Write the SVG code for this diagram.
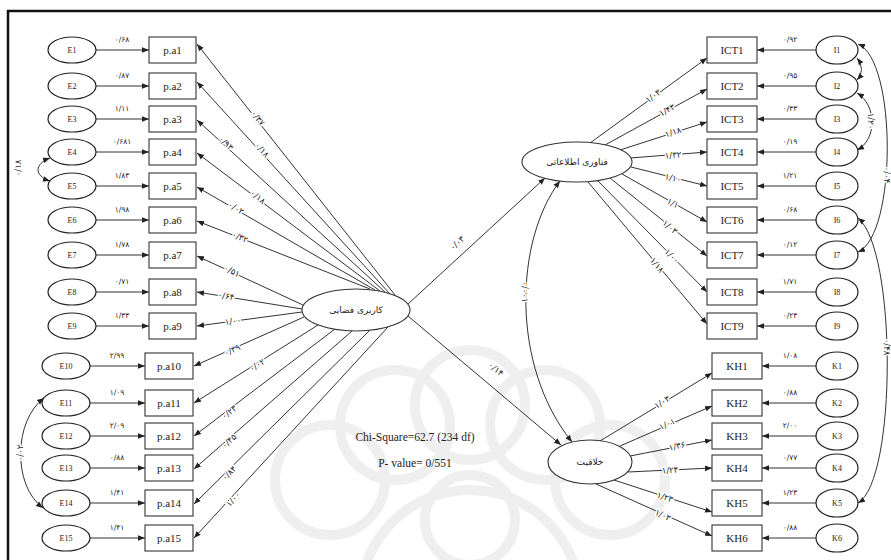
<svg xmlns="http://www.w3.org/2000/svg" width="891" height="560" viewBox="0 0 891 560">
<style>
.box{fill:#fff;stroke:#333;stroke-width:1.1}
.el{fill:#fff;stroke:#222;stroke-width:1.2}
.lat{fill:#fff;stroke:#333;stroke-width:1.1}
.ln{stroke:#333;stroke-width:1;fill:none}
.bt{font-family:"Liberation Serif",serif;font-size:11px;fill:#222;text-anchor:middle;dominant-baseline:central}
.et{font-family:"Liberation Serif",serif;font-size:8px;fill:#222;text-anchor:middle;dominant-baseline:central}
.fa{font-family:"DejaVu Sans",sans-serif;font-size:7.5px;fill:#222;text-anchor:middle;dominant-baseline:central}
.lb{stroke:#fff;stroke-width:3;paint-order:stroke}
.lt{font-family:"DejaVu Sans",sans-serif;font-size:8.5px;fill:#222;text-anchor:middle;dominant-baseline:central}
.st{font-family:"Liberation Serif",serif;font-size:11.5px;fill:#222;text-anchor:middle}
.wm{fill:none;stroke:#efefef;stroke-width:10}
</style>
<defs>
<marker id="ah" viewBox="0 0 10 10" refX="10" refY="5" markerWidth="7" markerHeight="7" markerUnits="userSpaceOnUse" orient="auto-start-reverse"><path d="M0,1 L10,5 L0,9 z" fill="#222"/></marker>
</defs>
<rect x="0" y="0" width="891" height="560" fill="#fff"/>
<g id="watermark">
<circle class="wm" cx="470" cy="600" r="110"/>
<circle class="wm" cx="330" cy="480" r="55"/>
<circle class="wm" cx="395" cy="425" r="55"/>
<circle class="wm" cx="470" cy="405" r="55"/>
<circle class="wm" cx="545" cy="425" r="55"/>
<circle class="wm" cx="610" cy="480" r="55"/>
<circle class="wm" cx="470" cy="520" r="45"/>
</g>
<rect x="8" y="11" width="890" height="560" fill="none" stroke="#111" stroke-width="2.5"/>

<g id="connectors">
<line class="ln" x1="96" y1="50" x2="149" y2="50" marker-end="url(#ah)"/>
<line class="ln" x1="96" y1="86" x2="149" y2="86" marker-end="url(#ah)"/>
<line class="ln" x1="96" y1="119" x2="149" y2="119" marker-end="url(#ah)"/>
<line class="ln" x1="96" y1="152" x2="149" y2="152" marker-end="url(#ah)"/>
<line class="ln" x1="96" y1="186" x2="149" y2="186" marker-end="url(#ah)"/>
<line class="ln" x1="96" y1="220" x2="149" y2="220" marker-end="url(#ah)"/>
<line class="ln" x1="96" y1="255" x2="149" y2="255" marker-end="url(#ah)"/>
<line class="ln" x1="96" y1="292" x2="149" y2="292" marker-end="url(#ah)"/>
<line class="ln" x1="96" y1="326" x2="149" y2="326" marker-end="url(#ah)"/>
<line class="ln" x1="90" y1="366" x2="145" y2="366" marker-end="url(#ah)"/>
<line class="ln" x1="90" y1="403" x2="145" y2="403" marker-end="url(#ah)"/>
<line class="ln" x1="90" y1="436" x2="145" y2="436" marker-end="url(#ah)"/>
<line class="ln" x1="90" y1="468" x2="145" y2="468" marker-end="url(#ah)"/>
<line class="ln" x1="90" y1="503" x2="145" y2="503" marker-end="url(#ah)"/>
<line class="ln" x1="90" y1="538" x2="145" y2="538" marker-end="url(#ah)"/>
<line class="ln" x1="395" y1="295" x2="197" y2="44" marker-end="url(#ah)"/>
<line class="ln" x1="390" y1="294" x2="197" y2="82" marker-end="url(#ah)"/>
<line class="ln" x1="385" y1="292" x2="197" y2="120" marker-end="url(#ah)"/>
<line class="ln" x1="380" y1="291" x2="197" y2="153" marker-end="url(#ah)"/>
<line class="ln" x1="375" y1="290" x2="197" y2="187" marker-end="url(#ah)"/>
<line class="ln" x1="370" y1="289" x2="197" y2="221" marker-end="url(#ah)"/>
<line class="ln" x1="303" y1="305" x2="197" y2="256" marker-end="url(#ah)"/>
<line class="ln" x1="302" y1="309" x2="197" y2="292" marker-end="url(#ah)"/>
<line class="ln" x1="302" y1="312" x2="197" y2="326" marker-end="url(#ah)"/>
<line class="ln" x1="304" y1="317" x2="194" y2="366" marker-end="url(#ah)"/>
<line class="ln" x1="318" y1="325" x2="194" y2="403" marker-end="url(#ah)"/>
<line class="ln" x1="335" y1="329" x2="194" y2="436" marker-end="url(#ah)"/>
<line class="ln" x1="352" y1="331" x2="194" y2="469" marker-end="url(#ah)"/>
<line class="ln" x1="370" y1="330" x2="194" y2="504" marker-end="url(#ah)"/>
<line class="ln" x1="388" y1="327" x2="194" y2="538" marker-end="url(#ah)"/>
<line class="ln" x1="816" y1="50" x2="757" y2="50" marker-end="url(#ah)"/>
<line class="ln" x1="816" y1="86" x2="757" y2="86" marker-end="url(#ah)"/>
<line class="ln" x1="816" y1="119" x2="757" y2="119" marker-end="url(#ah)"/>
<line class="ln" x1="816" y1="152" x2="757" y2="152" marker-end="url(#ah)"/>
<line class="ln" x1="816" y1="186" x2="757" y2="186" marker-end="url(#ah)"/>
<line class="ln" x1="816" y1="220" x2="757" y2="220" marker-end="url(#ah)"/>
<line class="ln" x1="816" y1="255" x2="757" y2="255" marker-end="url(#ah)"/>
<line class="ln" x1="816" y1="292" x2="757" y2="292" marker-end="url(#ah)"/>
<line class="ln" x1="816" y1="326" x2="757" y2="326" marker-end="url(#ah)"/>
<line class="ln" x1="816" y1="366" x2="762" y2="366" marker-end="url(#ah)"/>
<line class="ln" x1="816" y1="403" x2="762" y2="403" marker-end="url(#ah)"/>
<line class="ln" x1="816" y1="436" x2="762" y2="436" marker-end="url(#ah)"/>
<line class="ln" x1="816" y1="468" x2="762" y2="468" marker-end="url(#ah)"/>
<line class="ln" x1="816" y1="503" x2="762" y2="503" marker-end="url(#ah)"/>
<line class="ln" x1="816" y1="538" x2="762" y2="538" marker-end="url(#ah)"/>
<line class="ln" x1="590" y1="143" x2="707" y2="58" marker-end="url(#ah)"/>
<line class="ln" x1="605" y1="145" x2="707" y2="89" marker-end="url(#ah)"/>
<line class="ln" x1="620" y1="150" x2="707" y2="122" marker-end="url(#ah)"/>
<line class="ln" x1="630" y1="158" x2="707" y2="152" marker-end="url(#ah)"/>
<line class="ln" x1="631" y1="167" x2="707" y2="186" marker-end="url(#ah)"/>
<line class="ln" x1="622" y1="174" x2="707" y2="222" marker-end="url(#ah)"/>
<line class="ln" x1="610" y1="178" x2="707" y2="256" marker-end="url(#ah)"/>
<line class="ln" x1="598" y1="181" x2="707" y2="292" marker-end="url(#ah)"/>
<line class="ln" x1="588" y1="182" x2="707" y2="324" marker-end="url(#ah)"/>
<line class="ln" x1="600" y1="441" x2="712" y2="373" marker-end="url(#ah)"/>
<line class="ln" x1="620" y1="446" x2="712" y2="406" marker-end="url(#ah)"/>
<line class="ln" x1="630" y1="456" x2="712" y2="440" marker-end="url(#ah)"/>
<line class="ln" x1="628" y1="472" x2="712" y2="468" marker-end="url(#ah)"/>
<line class="ln" x1="614" y1="480" x2="712" y2="512" marker-end="url(#ah)"/>
<line class="ln" x1="596" y1="484" x2="712" y2="536" marker-end="url(#ah)"/>
<line class="ln" x1="408" y1="304" x2="545" y2="178" marker-end="url(#ah)"/>
<line class="ln" x1="408" y1="316" x2="561" y2="445" marker-end="url(#ah)"/>
<path class="ln" d="M560,181 C515,240 510,365 572,442" marker-start="url(#ah)" marker-end="url(#ah)"/>
<path class="ln" d="M50,158 C34,164 34,176 50,181" marker-start="url(#ah)" marker-end="url(#ah)"/>
<path class="ln" d="M44,398 C14,420 12,485 43,508" marker-start="url(#ah)" marker-end="url(#ah)"/>
<path class="ln" d="M857,58 Q866,70 857,80" marker-start="url(#ah)" marker-end="url(#ah)"/>
<path class="ln" d="M857,93 C877,105 877,140 857,150" marker-start="url(#ah)" marker-end="url(#ah)"/>
<path class="ln" d="M858,44 C897,60 897,235 858,252" marker-start="url(#ah)" marker-end="url(#ah)"/>
<path class="ln" d="M858,218 C897,250 897,480 858,503" marker-start="url(#ah)" marker-end="url(#ah)"/>
<text class="fa" x="122" y="39">۰/۶۸</text>
<text class="fa" x="122" y="75">۰/۸۷</text>
<text class="fa" x="122" y="108">۱/۱۱</text>
<text class="fa" x="122" y="141">۰/۶۸۱</text>
<text class="fa" x="122" y="175">۱/۸۳</text>
<text class="fa" x="122" y="209">۱/۹۸</text>
<text class="fa" x="122" y="244">۱/۷۸</text>
<text class="fa" x="122" y="281">۰/۷۱</text>
<text class="fa" x="122" y="315">۱/۳۳</text>
<text class="fa" x="117" y="355">۲/۹۹</text>
<text class="fa" x="117" y="392">۱/۰۹</text>
<text class="fa" x="117" y="425">۲/۰۹</text>
<text class="fa" x="117" y="457">۰/۸۸</text>
<text class="fa" x="117" y="492">۱/۴۱</text>
<text class="fa" x="117" y="527">۱/۴۱</text>
<text class="lt lb" transform="translate(258,118) rotate(52.3)">۰/۳۷</text>
<text class="lt lb" transform="translate(262,150) rotate(48.3)">۰/۱۸</text>
<text class="lt lb" transform="translate(226,143) rotate(43.1)">۰/۹۳</text>
<text class="lt lb" transform="translate(258,197) rotate(37.6)">۰/۱۸</text>
<text class="lt lb" transform="translate(236,208) rotate(30.6)">۰/۰۲</text>
<text class="lt lb" transform="translate(240,237) rotate(21.9)">۰/۳۲</text>
<text class="lt lb" transform="translate(232,271) rotate(25.7)">۰/۵۱</text>
<text class="lt lb" transform="translate(226,296) rotate(9.6)">۰/۶۴</text>
<text class="lt lb" transform="translate(233,321) rotate(-7.9)">۱/۰۰</text>
<text class="lt lb" transform="translate(232,350) rotate(-24.8)">۰/۳۹</text>
<text class="lt lb" transform="translate(257,365) rotate(-33)">۰/۰۲</text>
<text class="lt lb" transform="translate(229,412) rotate(-38)">۰/۲۳</text>
<text class="lt lb" transform="translate(229,441) rotate(-41.9)">۰/۴۵</text>
<text class="lt lb" transform="translate(229,473) rotate(-45.3)">۰/۸۴</text>
<text class="lt lb" transform="translate(233,499) rotate(-48)">۱/۰۰</text>
<text class="fa" x="790" y="39">۰/۹۲</text>
<text class="fa" x="790" y="75">۰/۹۵</text>
<text class="fa" x="790" y="108">۰/۳۳</text>
<text class="fa" x="790" y="141">۰/۱۹</text>
<text class="fa" x="790" y="175">۱/۲۱</text>
<text class="fa" x="790" y="209">۰/۶۸</text>
<text class="fa" x="790" y="244">۰/۱۲</text>
<text class="fa" x="790" y="281">۱/۷۱</text>
<text class="fa" x="790" y="315">۰/۲۳</text>
<text class="fa" x="790" y="355">۱/۰۸</text>
<text class="fa" x="790" y="392">۰/۸۸</text>
<text class="fa" x="790" y="425">۲/۰۰</text>
<text class="fa" x="790" y="457">۰/۷۷</text>
<text class="fa" x="790" y="492">۱/۲۳</text>
<text class="fa" x="790" y="527">۰/۸۸</text>
<text class="lt lb" transform="translate(653,96) rotate(-36.9)">۱/۰۳</text>
<text class="lt lb" transform="translate(667,110) rotate(-29.7)">۱/۴۳</text>
<text class="lt lb" transform="translate(673,132) rotate(-18.6)">۱/۱۸</text>
<text class="lt lb" transform="translate(673,155) rotate(-4.7)">۱/۳۲</text>
<text class="lt lb" transform="translate(673,178) rotate(14)">۱/۱۰</text>
<text class="lt lb" transform="translate(673,203) rotate(29.6)">۱/۱</text>
<text class="lt lb" transform="translate(670,227) rotate(39)">۱/۰۳</text>
<text class="lt lb" transform="translate(672,256) rotate(45.3)">۱/۰۰</text>
<text class="lt lb" transform="translate(657,265) rotate(50.1)">۱/۱۸</text>
<text class="lt lb" transform="translate(662,402) rotate(-31.9)">۱/۰۳</text>
<text class="lt lb" transform="translate(667,424) rotate(-24.7)">۱/۰۱</text>
<text class="lt lb" transform="translate(677,446) rotate(-12.2)">۱/۳۶</text>
<text class="lt lb" transform="translate(670,470) rotate(-3)">۱/۲۴</text>
<text class="lt lb" transform="translate(665,497) rotate(19)">۱/۲۳</text>
<text class="lt lb" transform="translate(663,515) rotate(24.9)">۱/۰۲</text>
<text class="lt lb" transform="translate(457,243) rotate(-42.3)">۰/۰۳</text>
<text class="lt lb" transform="translate(496,369) rotate(40)">۰/۱۴</text>
<text class="lt lb" transform="translate(525,292) rotate(90)">۰/۰۰۱</text>
<text class="lt" transform="translate(18,168) rotate(-90)">۰/۱۸</text>
<text class="lt lb" transform="translate(20,453) rotate(-90)">۰/۰۲</text>
<text class="lt lb" transform="translate(871,121) rotate(90)">۱/۲۰</text>
<text class="lt lb" transform="translate(887,175) rotate(90)">۰/۰۴</text>
<text class="lt lb" transform="translate(887,347) rotate(90)">۰/۴۸</text>
</g>

<g id="pa1"><rect class="box" x="149" y="37" width="47" height="26"/><text class="bt" x="172.5" y="50">p.a1</text></g>
<g id="pa2"><rect class="box" x="149" y="73" width="47" height="26"/><text class="bt" x="172.5" y="86">p.a2</text></g>
<g id="pa3"><rect class="box" x="149" y="106" width="47" height="26"/><text class="bt" x="172.5" y="119">p.a3</text></g>
<g id="pa4"><rect class="box" x="149" y="139" width="47" height="26"/><text class="bt" x="172.5" y="152">p.a4</text></g>
<g id="pa5"><rect class="box" x="149" y="173" width="47" height="26"/><text class="bt" x="172.5" y="186">p.a5</text></g>
<g id="pa6"><rect class="box" x="149" y="207" width="47" height="26"/><text class="bt" x="172.5" y="220">p.a6</text></g>
<g id="pa7"><rect class="box" x="149" y="242" width="47" height="26"/><text class="bt" x="172.5" y="255">p.a7</text></g>
<g id="pa8"><rect class="box" x="149" y="279" width="47" height="26"/><text class="bt" x="172.5" y="292">p.a8</text></g>
<g id="pa9"><rect class="box" x="149" y="313" width="47" height="26"/><text class="bt" x="172.5" y="326">p.a9</text></g>
<g id="pa10"><rect class="box" x="145" y="353" width="48" height="26"/><text class="bt" x="169" y="366">p.a10</text></g>
<g id="pa11"><rect class="box" x="145" y="390" width="48" height="26"/><text class="bt" x="169" y="403">p.a11</text></g>
<g id="pa12"><rect class="box" x="145" y="423" width="48" height="26"/><text class="bt" x="169" y="436">p.a12</text></g>
<g id="pa13"><rect class="box" x="145" y="455" width="48" height="26"/><text class="bt" x="169" y="468">p.a13</text></g>
<g id="pa14"><rect class="box" x="145" y="490" width="48" height="26"/><text class="bt" x="169" y="503">p.a14</text></g>
<g id="pa15"><rect class="box" x="145" y="525" width="48" height="26"/><text class="bt" x="169" y="538">p.a15</text></g>

<g id="E1"><ellipse class="el" cx="72" cy="50" rx="24" ry="13"/><text class="et" x="72" y="50">E1</text></g>
<g id="E2"><ellipse class="el" cx="72" cy="86" rx="24" ry="13"/><text class="et" x="72" y="86">E2</text></g>
<g id="E3"><ellipse class="el" cx="72" cy="119" rx="24" ry="13"/><text class="et" x="72" y="119">E3</text></g>
<g id="E4"><ellipse class="el" cx="72" cy="152" rx="24" ry="13"/><text class="et" x="72" y="152">E4</text></g>
<g id="E5"><ellipse class="el" cx="72" cy="186" rx="24" ry="13"/><text class="et" x="72" y="186">E5</text></g>
<g id="E6"><ellipse class="el" cx="72" cy="220" rx="24" ry="13"/><text class="et" x="72" y="220">E6</text></g>
<g id="E7"><ellipse class="el" cx="72" cy="255" rx="24" ry="13"/><text class="et" x="72" y="255">E7</text></g>
<g id="E8"><ellipse class="el" cx="72" cy="292" rx="24" ry="13"/><text class="et" x="72" y="292">E8</text></g>
<g id="E9"><ellipse class="el" cx="72" cy="326" rx="24" ry="13"/><text class="et" x="72" y="326">E9</text></g>
<g id="E10"><ellipse class="el" cx="66" cy="366" rx="24" ry="13"/><text class="et" x="66" y="366">E10</text></g>
<g id="E11"><ellipse class="el" cx="66" cy="403" rx="24" ry="13"/><text class="et" x="66" y="403">E11</text></g>
<g id="E12"><ellipse class="el" cx="66" cy="436" rx="24" ry="13"/><text class="et" x="66" y="436">E12</text></g>
<g id="E13"><ellipse class="el" cx="66" cy="468" rx="24" ry="13"/><text class="et" x="66" y="468">E13</text></g>
<g id="E14"><ellipse class="el" cx="66" cy="503" rx="24" ry="13"/><text class="et" x="66" y="503">E14</text></g>
<g id="E15"><ellipse class="el" cx="66" cy="538" rx="24" ry="13"/><text class="et" x="66" y="538">E15</text></g>

<g id="ICT1"><rect class="box" x="707" y="37" width="50" height="26"/><text class="bt" x="732" y="50">ICT1</text></g>
<g id="ICT2"><rect class="box" x="707" y="73" width="50" height="26"/><text class="bt" x="732" y="86">ICT2</text></g>
<g id="ICT3"><rect class="box" x="707" y="106" width="50" height="26"/><text class="bt" x="732" y="119">ICT3</text></g>
<g id="ICT4"><rect class="box" x="707" y="139" width="50" height="26"/><text class="bt" x="732" y="152">ICT4</text></g>
<g id="ICT5"><rect class="box" x="707" y="173" width="50" height="26"/><text class="bt" x="732" y="186">ICT5</text></g>
<g id="ICT6"><rect class="box" x="707" y="207" width="50" height="26"/><text class="bt" x="732" y="220">ICT6</text></g>
<g id="ICT7"><rect class="box" x="707" y="242" width="50" height="26"/><text class="bt" x="732" y="255">ICT7</text></g>
<g id="ICT8"><rect class="box" x="707" y="279" width="50" height="26"/><text class="bt" x="732" y="292">ICT8</text></g>
<g id="ICT9"><rect class="box" x="707" y="313" width="50" height="26"/><text class="bt" x="732" y="326">ICT9</text></g>
<g id="KH1"><rect class="box" x="712" y="353" width="50" height="26"/><text class="bt" x="737" y="366">KH1</text></g>
<g id="KH2"><rect class="box" x="712" y="390" width="50" height="26"/><text class="bt" x="737" y="403">KH2</text></g>
<g id="KH3"><rect class="box" x="712" y="423" width="50" height="26"/><text class="bt" x="737" y="436">KH3</text></g>
<g id="KH4"><rect class="box" x="712" y="455" width="50" height="26"/><text class="bt" x="737" y="468">KH4</text></g>
<g id="KH5"><rect class="box" x="712" y="490" width="50" height="26"/><text class="bt" x="737" y="503">KH5</text></g>
<g id="KH6"><rect class="box" x="712" y="525" width="50" height="26"/><text class="bt" x="737" y="538">KH6</text></g>

<g id="I1"><ellipse class="el" cx="837" cy="50" rx="21" ry="14"/><text class="et" x="837" y="50">I1</text></g>
<g id="I2"><ellipse class="el" cx="837" cy="86" rx="21" ry="14"/><text class="et" x="837" y="86">I2</text></g>
<g id="I3"><ellipse class="el" cx="837" cy="119" rx="21" ry="14"/><text class="et" x="837" y="119">I3</text></g>
<g id="I4"><ellipse class="el" cx="837" cy="152" rx="21" ry="14"/><text class="et" x="837" y="152">I4</text></g>
<g id="I5"><ellipse class="el" cx="837" cy="186" rx="21" ry="14"/><text class="et" x="837" y="186">I5</text></g>
<g id="I6"><ellipse class="el" cx="837" cy="220" rx="21" ry="14"/><text class="et" x="837" y="220">I6</text></g>
<g id="I7"><ellipse class="el" cx="837" cy="255" rx="21" ry="14"/><text class="et" x="837" y="255">I7</text></g>
<g id="I8"><ellipse class="el" cx="837" cy="292" rx="21" ry="14"/><text class="et" x="837" y="292">I8</text></g>
<g id="I9"><ellipse class="el" cx="837" cy="326" rx="21" ry="14"/><text class="et" x="837" y="326">I9</text></g>
<g id="K1"><ellipse class="el" cx="837" cy="366" rx="21" ry="14"/><text class="et" x="837" y="366">K1</text></g>
<g id="K2"><ellipse class="el" cx="837" cy="403" rx="21" ry="14"/><text class="et" x="837" y="403">K2</text></g>
<g id="K3"><ellipse class="el" cx="837" cy="436" rx="21" ry="14"/><text class="et" x="837" y="436">K3</text></g>
<g id="K4"><ellipse class="el" cx="837" cy="468" rx="21" ry="14"/><text class="et" x="837" y="468">K4</text></g>
<g id="K5"><ellipse class="el" cx="837" cy="503" rx="21" ry="14"/><text class="et" x="837" y="503">K5</text></g>
<g id="K6"><ellipse class="el" cx="837" cy="538" rx="21" ry="14"/><text class="et" x="837" y="538">K6</text></g>

<g id="latent-space"><ellipse class="lat" cx="356" cy="310" rx="54" ry="21"/><text class="fa" x="356" y="310" style="font-size:9px">کاربری فضایی</text></g>
<g id="latent-ict"><ellipse class="lat" cx="577" cy="162" rx="55" ry="20"/><text class="fa" x="577" y="162" style="font-size:9px">فناوری اطلاعاتی</text></g>
<g id="latent-kh"><ellipse class="lat" cx="590" cy="462" rx="42" ry="22"/><text class="fa" x="590" y="462" style="font-size:9px">خلاقیت</text></g>

<g id="fit">
<text class="st" x="415" y="441">Chi-Square=62.7 (234 df)</text>
<text class="st" x="415" y="467">P- value= 0/551</text>
</g>
</svg>
